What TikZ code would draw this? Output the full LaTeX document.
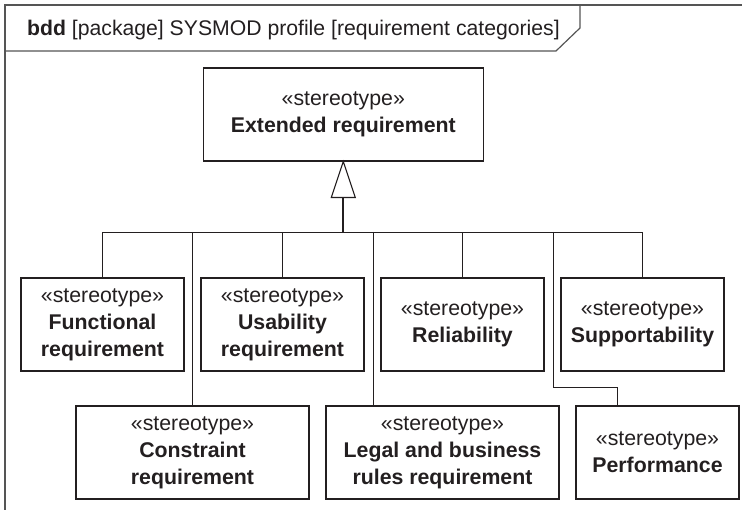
\documentclass[tikz,border=0pt]{standalone}
\usepackage{fontspec}
\setmainfont{Liberation Sans}
\definecolor{ink}{HTML}{231F20}
\definecolor{framec}{HTML}{555555}
\begin{document}
\begin{tikzpicture}[x=1pt,y=-1pt,
  blk/.style={draw=ink, line width=1.1pt, minimum width=163pt, minimum height=93pt,
    inner sep=0pt, align=center, font=\fontsize{21.3}{27}\selectfont, text=ink},
  conn/.style={draw=ink, line width=0.9pt},
  gen/.style={draw=ink, line width=1.1pt, fill=white},
  frameline/.style={draw=framec, line width=1.2pt}]
\useasboundingbox (0,0) rectangle (742,510);
% frame
\draw[frameline] (742,5) -- (5,5) -- (5,510);
\draw[frameline] (580,5) -- (580,28) -- (556,51) -- (5,51);
\node[anchor=base west, inner sep=0pt, text=ink, font=\fontsize{21.2}{25}\selectfont] (title) at (27,36)
  {\textbf{bdd} [package] SYSMOD profile [requirement categories]};
% blocks
\node[blk, minimum width=280pt] (ext) at (343.3,114.5) {«stereotype»\\\textbf{Extended requirement}};
\node[blk] (fun) at (102.5,324.5) {«stereotype»\\\textbf{Functional}\\\textbf{requirement}};
\node[blk] (usa) at (282.5,324.5) {«stereotype»\\\textbf{Usability}\\\textbf{requirement}};
\node[blk] (rel) at (462.5,324.5) {«stereotype»\\\textbf{Reliability}};
\node[blk] (sup) at (642.5,324.5) {«stereotype»\\\textbf{Supportability}};
\node[blk, minimum width=233pt] (con) at (192.5,452.5) {«stereotype»\\\textbf{Constraint}\\\textbf{requirement}};
\node[blk, minimum width=233pt] (leg) at (442.5,452.5) {«stereotype»\\\textbf{Legal and business}\\\textbf{rules requirement}};
\node[blk] (per) at (657.5,452.5) {«stereotype»\\\textbf{Performance}};
% generalization
\coordinate (tb) at ([yshift=-36pt]ext.south);
\coordinate (bus) at (343.3,232);
\coordinate (lx) at (373,232);
\coordinate (px) at (553,232);
\coordinate (pb) at (617,387);
\draw[conn] (fun.north) -- (fun.north |- bus) -- (sup.north |- bus) -- (sup.north);
\draw[conn] (usa.north) -- (usa.north |- bus);
\draw[conn] (rel.north) -- (rel.north |- bus);
\draw[conn] (con.north) -- (con.north |- bus);
\draw[conn] (lx) -- (lx |- leg.north);
\draw[conn] (px) |- (pb) -- (pb |- per.north);
\draw[ink, line width=2pt] (bus) -- (tb);
\draw[gen] (ext.south) -- ++(-12,36) -- ++(24,0) -- cycle;
\end{tikzpicture}
\end{document}
